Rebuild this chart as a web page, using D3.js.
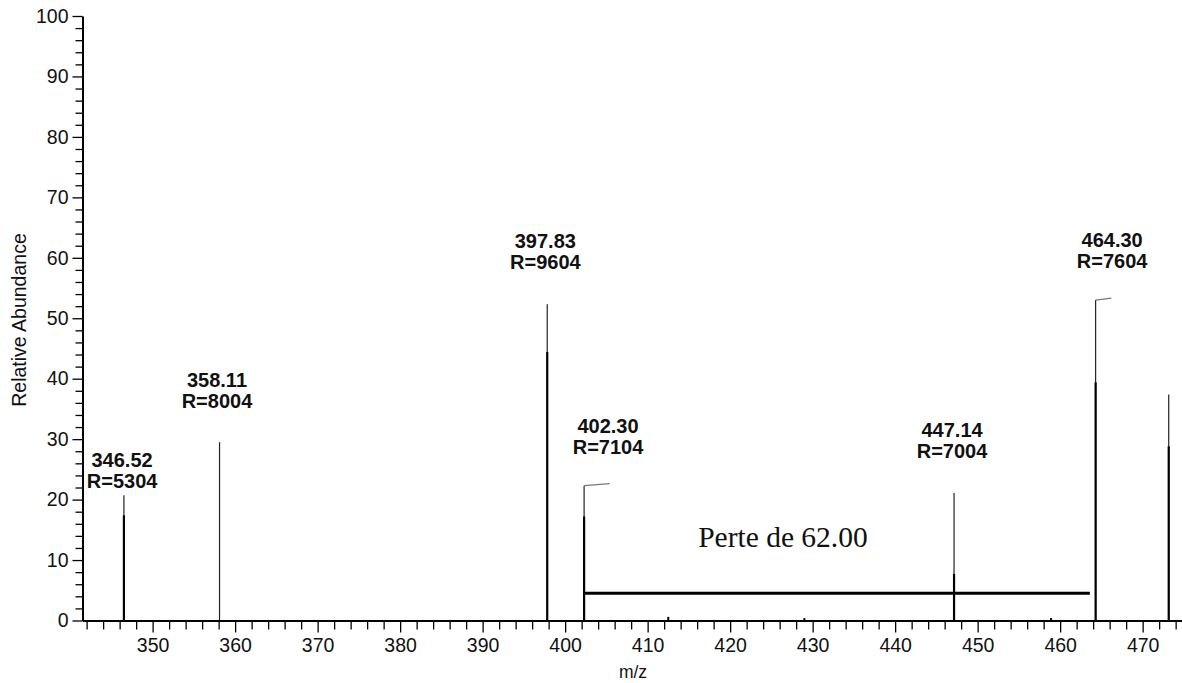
<!DOCTYPE html>
<html><head><meta charset="utf-8">
<script src="https://cdn.jsdelivr.net/npm/d3@7"></script>
<style>
html,body{margin:0;padding:0;background:#fff;}
svg{display:block;}
</style></head>
<body>
<svg id="chart" width="1182" height="683"></svg>
<script>
// ---- data ----
const xTickLabels = [350,360,370,380,390,400,410,420,430,440,450,460,470];
const yTickLabels = [0,10,20,30,40,50,60,70,80,90,100];
const peakMz    = [346.52, 358.11, 397.83, 402.30, 447.14, 464.30, 473.16];
const peakApex  = [20.7,   29.5,   52.3,   22.3,   21.1,   53.0,   37.4];
const peakCore  = [17.4,   0,      44.4,   17.2,   7.7,    39.4,   28.8];
const peakFlag  = [0,      0,      0,      3.1,    0,      1.9,    0];
const labelMass = ["346.52","358.11","397.83","402.30","447.14","464.30"];
const labelRes  = ["R=5304","R=8004","R=9604","R=7104","R=7004","R=7604"];
const labelMz   = [346.3, 357.8, 397.6, 405.2, 446.9, 466.3];
const labelLevel= [21.9, 35.1, 58.2, 27.6, 26.8, 58.3];
const minorMz   = [412.5, 429.0, 458.9];
const minorVal  = [0.6, 0.4, 0.4];
const lossFrom = 402.30, lossTo = 463.6, lossLevel = 4.5;
const lossText = "Perte de 62.00", lossTextMz = 426.4, lossTextLevel = 12.1;
const xTitle = "m/z", yTitle = "Relative Abundance";

// ---- layout ----
const svg = d3.select("#chart");
const x = d3.scaleLinear().domain([341.5, 474.77]).range([82.5, 1182]);
const y = d3.scaleLinear().domain([0, 100]).range([620.5, 16]);
const font = "'Liberation Sans', Arial, sans-serif";

// minor ticks
const xMinor = d3.range(342, 475, 2).filter(v => v % 10 !== 0);
const yMinor = d3.range(0, 101, 2).filter(v => v % 10 !== 0);

const gx = svg.append("g").attr("transform", `translate(0,${y(0)})`);
gx.call(d3.axisBottom(x).tickValues(xTickLabels).tickSize(12).tickSizeOuter(0).tickPadding(6).tickFormat(d3.format("d")));
gx.append("g").call(d3.axisBottom(x).tickValues(xMinor).tickSize(9).tickSizeOuter(0).tickFormat(""))
  .select(".domain").remove();
gx.selectAll(".tick line").attr("stroke", "#000").attr("stroke-width", 1.3);
gx.select(".domain").attr("stroke", "#000").attr("stroke-width", 2);
gx.selectAll("text").attr("font-family", font).attr("font-size", 19.5).attr("fill", "#111");

const gy = svg.append("g").attr("transform", `translate(${x(341.5)},0)`);
gy.call(d3.axisLeft(y).tickValues(yTickLabels).tickSize(10).tickSizeOuter(0).tickPadding(4).tickFormat(d3.format("d")));
gy.append("g").call(d3.axisLeft(y).tickValues(yMinor).tickSize(7).tickSizeOuter(0).tickFormat(""))
  .select(".domain").remove();
gy.selectAll(".tick line").attr("stroke", "#000").attr("stroke-width", 1.3);
gy.select(".domain").attr("stroke", "#000").attr("stroke-width", 2);
gy.selectAll("text").attr("font-family", font).attr("font-size", 19.5).attr("fill", "#111");

// axis titles
svg.append("text").attr("x", 633).attr("y", 678).attr("text-anchor", "middle")
  .attr("font-family", font).attr("font-size", 17.5).attr("fill", "#111").text(xTitle);
svg.append("text").attr("transform", "translate(26,320) rotate(-90)").attr("text-anchor", "middle")
  .attr("font-family", font).attr("font-size", 19.5).attr("fill", "#111").text(yTitle);

// peaks
const peaks = peakMz.map((m, i) => ({m, apex: peakApex[i], core: peakCore[i], flag: peakFlag[i]}));
svg.append("g").selectAll("line").data(peaks).join("line")
  .attr("x1", d => x(d.m)).attr("x2", d => x(d.m))
  .attr("y1", y(0)).attr("y2", d => y(d.apex))
  .attr("stroke", "#222").attr("stroke-width", 1.2);
svg.append("g").selectAll("line").data(peaks.filter(d => d.core > 0)).join("line")
  .attr("x1", d => x(d.m)).attr("x2", d => x(d.m))
  .attr("y1", y(0)).attr("y2", d => y(d.core))
  .attr("stroke", "#000").attr("stroke-width", 2.2);
svg.append("g").selectAll("line").data(peaks.filter(d => d.flag > 0)).join("line")
  .attr("x1", d => x(d.m)).attr("x2", d => x(d.m + d.flag))
  .attr("y1", d => y(d.apex)).attr("y2", d => y(d.apex) - 2)
  .attr("stroke", "#777").attr("stroke-width", 1.2);

// small baseline blips
svg.append("g").selectAll("line").data(minorMz.map((m, i) => ({m, v: minorVal[i]}))).join("line")
  .attr("x1", d => x(d.m)).attr("x2", d => x(d.m))
  .attr("y1", y(0)).attr("y2", d => y(d.v))
  .attr("stroke", "#000").attr("stroke-width", 2);

// peak labels
const labels = labelMass.map((t, i) => ({t, r: labelRes[i], m: labelMz[i], lv: labelLevel[i]}));
const lg = svg.append("g").attr("font-family", font).attr("font-size", 20).attr("font-weight", "bold")
  .attr("fill", "#111").attr("text-anchor", "middle");
lg.selectAll("text.mass").data(labels).join("text").attr("class", "mass")
  .attr("x", d => x(d.m)).attr("y", d => y(d.lv) - 21).text(d => d.t);
lg.selectAll("text.res").data(labels).join("text").attr("class", "res")
  .attr("x", d => x(d.m)).attr("y", d => y(d.lv)).text(d => d.r);

// loss annotation
svg.append("line").attr("x1", x(lossFrom)).attr("x2", x(lossTo))
  .attr("y1", y(lossLevel)).attr("y2", y(lossLevel))
  .attr("stroke", "#000").attr("stroke-width", 3);
svg.append("text").attr("x", x(lossTextMz)).attr("y", y(lossTextLevel))
  .attr("text-anchor", "middle").attr("font-family", "'Liberation Serif', 'Times New Roman', serif")
  .attr("font-size", 29.5).attr("fill", "#111").text(lossText);
</script>
</body></html>
